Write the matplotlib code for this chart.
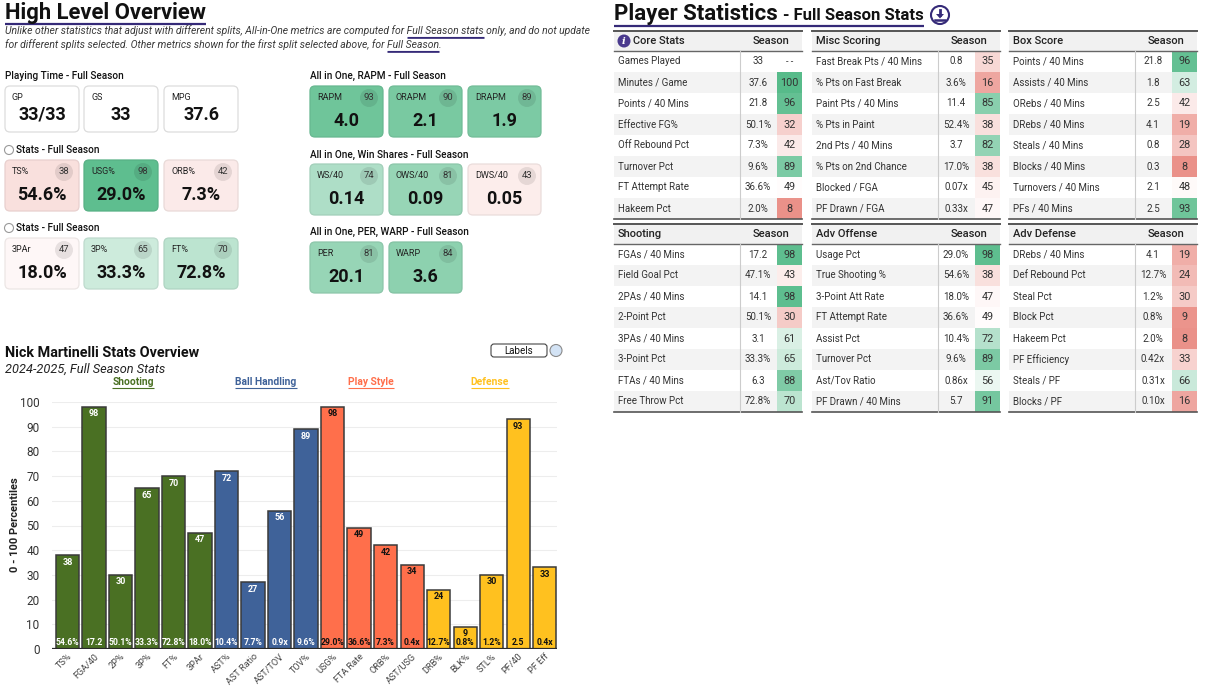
import matplotlib
matplotlib.use("Agg")
import matplotlib.pyplot as plt
from matplotlib.patches import FancyBboxPatch, Rectangle, Circle, Polygon
import numpy as np

plt.rcParams['font.family'] = ['Roboto', 'DejaVu Sans']

W, H = 1207, 687

# ---------------- data ----------------
playing_labels = ["GP", "GS", "MPG"]
playing_values = ["33/33", "33", "37.6"]

stats1_labels = ["TS%", "USG%", "ORB%"]
stats1_values = ["54.6%", "29.0%", "7.3%"]
stats1_pct = [38, 98, 42]

stats2_labels = ["3PAr", "3P%", "FT%"]
stats2_values = ["18.0%", "33.3%", "72.8%"]
stats2_pct = [47, 65, 70]

rapm_labels = ["RAPM", "ORAPM", "DRAPM"]
rapm_values = ["4.0", "2.1", "1.9"]
rapm_pct = [93, 90, 89]

ws_labels = ["WS/40", "OWS/40", "DWS/40"]
ws_values = ["0.14", "0.09", "0.05"]
ws_pct = [74, 81, 43]

per_labels = ["PER", "WARP"]
per_values = ["20.1", "3.6"]
per_pct = [81, 84]

bar_labels = ["TS%", "FGA/40", "2P%", "3P%", "FT%", "3PAr",
              "AST%", "AST Ratio", "AST/TOV", "TOV%",
              "USG%", "FTA Rate", "ORB%", "AST/USG",
              "DRB%", "BLK%", "STL%", "PF/40", "PF Eff"]
bar_pct = [38, 98, 30, 65, 70, 47, 72, 27, 56, 89, 98, 49, 42, 34, 24, 9, 30, 93, 33]
bar_raw = ["54.6%", "17.2", "50.1%", "33.3%", "72.8%", "18.0%",
           "10.4%", "7.7%", "0.9x", "9.6%",
           "29.0%", "36.6%", "7.3%", "0.4x",
           "12.7%", "0.8%", "1.2%", "2.5", "0.4x"]
bar_group = ["Shooting"] * 6 + ["Ball Handling"] * 4 + ["Play Style"] * 4 + ["Defense"] * 5
group_names = ["Shooting", "Ball Handling", "Play Style", "Defense"]

core_rows = ["Games Played", "Minutes / Game", "Points / 40 Mins", "Effective FG%",
             "Off Rebound Pct", "Turnover Pct", "FT Attempt Rate", "Hakeem Pct"]
core_vals = ["33", "37.6", "21.8", "50.1%", "7.3%", "9.6%", "36.6%", "2.0%"]
core_pct = [None, 100, 96, 32, 42, 89, 49, 8]

misc_rows = ["Fast Break Pts / 40 Mins", "% Pts on Fast Break", "Paint Pts / 40 Mins", "% Pts in Paint",
             "2nd Pts / 40 Mins", "% Pts on 2nd Chance", "Blocked / FGA", "PF Drawn / FGA"]
misc_vals = ["0.8", "3.6%", "11.4", "52.4%", "3.7", "17.0%", "0.07x", "0.33x"]
misc_pct = [35, 16, 85, 38, 82, 38, 45, 47]

box_rows = ["Points / 40 Mins", "Assists / 40 Mins", "ORebs / 40 Mins", "DRebs / 40 Mins",
            "Steals / 40 Mins", "Blocks / 40 Mins", "Turnovers / 40 Mins", "PFs / 40 Mins"]
box_vals = ["21.8", "1.8", "2.5", "4.1", "0.8", "0.3", "2.1", "2.5"]
box_pct = [96, 63, 42, 19, 28, 8, 48, 93]

shoot_rows = ["FGAs / 40 Mins", "Field Goal Pct", "2PAs / 40 Mins", "2-Point Pct",
              "3PAs / 40 Mins", "3-Point Pct", "FTAs / 40 Mins", "Free Throw Pct"]
shoot_vals = ["17.2", "47.1%", "14.1", "50.1%", "3.1", "33.3%", "6.3", "72.8%"]
shoot_pct = [98, 43, 98, 30, 61, 65, 88, 70]

advo_rows = ["Usage Pct", "True Shooting %", "3-Point Att Rate", "FT Attempt Rate",
             "Assist Pct", "Turnover Pct", "Ast/Tov Ratio", "PF Drawn / 40 Mins"]
advo_vals = ["29.0%", "54.6%", "18.0%", "36.6%", "10.4%", "9.6%", "0.86x", "5.7"]
advo_pct = [98, 38, 47, 49, 72, 89, 56, 91]

advd_rows = ["DRebs / 40 Mins", "Def Rebound Pct", "Steal Pct", "Block Pct",
             "Hakeem Pct", "PF Efficiency", "Steals / PF", "Blocks / PF"]
advd_vals = ["4.1", "12.7%", "1.2%", "0.8%", "2.0%", "0.42x", "0.31x", "0.10x"]
advd_pct = [19, 24, 30, 9, 8, 33, 66, 16]

# ---------------- styles ----------------
group_colors = {"Shooting": "#4a7023", "Ball Handling": "#3f6299",
                "Play Style": "#ff6f4b", "Defense": "#ffc11f"}
group_text = {"Shooting": "white", "Ball Handling": "white",
              "Play Style": "#111111", "Defense": "#111111"}
PURPLE = "#352a78"
RED = np.array([230, 124, 115]) / 255
GREEN = np.array([87, 187, 138]) / 255
WHITE = np.ones(3)


def pct_color(p):
    if p < 50:
        return tuple(RED + (WHITE - RED) * (p / 50))
    return tuple(WHITE + (GREEN - WHITE) * ((p - 50) / 50))


fig = plt.figure(figsize=(W / 100, H / 100), dpi=100)
ov = fig.add_axes([0, 0, 1, 1])
ov.set_xlim(0, W)
ov.set_ylim(H, 0)
ov.axis("off")
renderer = fig.canvas.get_renderer()


def tw(s, **kw):
    t1 = ov.text(0, 0, s + "|", **kw)
    w1 = t1.get_window_extent(renderer).width
    t1.remove()
    t2 = ov.text(0, 0, "|", **kw)
    w2 = t2.get_window_extent(renderer).width
    t2.remove()
    return w1 - w2


def underline(x0, x1, y, color=PURPLE, lw=1.3):
    ov.plot([x0, x1], [y, y], color=color, lw=lw, solid_capstyle="butt")


# ---------------- left: high level overview ----------------
title_kw = dict(fontsize=15.8, fontweight="bold", color="#111111")
ov.text(5, 13, "High Level Overview", va="center", ha="left", **title_kw)
underline(5, 5 + tw("High Level Overview", **title_kw), 24, lw=1.6)

note_kw = dict(fontsize=7.5, fontstyle="italic", color="#3a3a3a")
line1 = ["Unlike other statistics that adjust with different splits, All-in-One metrics are computed for ",
         "Full Season stats", " only, and do not update"]
line2 = ["for different splits selected. Other metrics shown for the first split selected above, for ",
         "Full Season", "."]
for parts, y in [(line1, 31), (line2, 45)]:
    x = 5
    ov.text(x, y, "".join(parts), va="center", ha="left", **note_kw)
    xs = x + tw(parts[0], **note_kw)
    xe = xs + tw(parts[1], **note_kw)
    underline(xs, xe, y + 5.5, lw=0.8)
    underline(xs, xe, y + 7, lw=0.6)

sec_kw = dict(fontsize=7.2, fontweight="medium", color="#111111", va="center", ha="left")


def card(x, y, w, h, label, value, pct=None, vy=0.68):
    fc = "white" if pct is None else pct_color(pct)
    ec = "#dcdcdc" if pct is None else tuple(np.array(fc) * 0.93)
    ov.add_patch(FancyBboxPatch((x, y), w, h, boxstyle="round,pad=0,rounding_size=5",
                                fc=fc, ec=ec, lw=0.9))
    ov.text(x + 7, y + 12, label, fontsize=6.5, va="center", ha="left", color="#222222")
    if pct is not None:
        ov.add_patch(Circle((x + 59, y + 12), 9, fc=(0, 0, 0, 0.09), ec="none"))
        ov.text(x + 59, y + 12, str(pct), fontsize=6.8, ha="center", va="center", color="#333333")
    ov.text(x + w / 2, y + h * vy, value, fontsize=13, fontweight="bold",
            ha="center", va="center", color="#111111")


left_x = [5, 84, 164]
right_x = [310, 389, 468]
cw = 73

ov.text(5, 76, "Playing Time - Full Season", **sec_kw)
for i in range(3):
    card(left_x[i], 86, cw + 1, 46, playing_labels[i], playing_values[i], None, vy=0.63)

for (lab, vals, pcts), yl, yc in [((stats1_labels, stats1_values, stats1_pct), 150, 160),
                                   ((stats2_labels, stats2_values, stats2_pct), 228, 238)]:
    ov.add_patch(Circle((9, yl), 4.5, fc="white", ec="#9a9a9a", lw=0.8))
    ov.text(16, yl, "Stats - Full Season", **sec_kw)
    for i in range(3):
        card(left_x[i], yc, cw + 1, 51, lab[i], vals[i], pcts[i])

for title, (lab, vals, pcts), yl, yc in [
        ("All in One, RAPM - Full Season", (rapm_labels, rapm_values, rapm_pct), 76, 86),
        ("All in One, Win Shares - Full Season", (ws_labels, ws_values, ws_pct), 155, 164),
        ("All in One, PER, WARP - Full Season", (per_labels, per_values, per_pct), 232, 242)]:
    ov.text(310, yl, title, **sec_kw)
    for i in range(len(lab)):
        card(right_x[i], yc, cw, 51, lab[i], vals[i], pcts[i])

# ---------------- bar chart ----------------
ov.text(5, 353, "Nick Martinelli Stats Overview", fontsize=10.4, fontweight="bold",
        color="#111111", va="center", ha="left")
ov.text(5, 369, "2024-2025, Full Season Stats", fontsize=9.2, fontstyle="italic",
        color="#222222", va="center", ha="left")

cat_x = {"Shooting": 133, "Ball Handling": 266, "Play Style": 371, "Defense": 490}
cat_kw = dict(fontsize=7.4, fontweight="bold")
for g in group_names:
    ov.text(cat_x[g], 382, g, ha="center", va="center", color=group_colors[g], **cat_kw)
    half = tw(g, **cat_kw) / 2
    underline(cat_x[g] - half, cat_x[g] + half, 388, color=group_colors[g], lw=0.8)

ov.add_patch(FancyBboxPatch((491, 344), 56, 13, boxstyle="round,pad=0,rounding_size=3",
                            fc="white", ec="#444444", lw=0.8))
ov.text(519, 350.5, "Labels", fontsize=7, ha="center", va="center", color="#111111")
ov.add_patch(Circle((556, 350.5), 6, fc="#d3e3f5", ec="#8a8a8a", lw=0.8))

ov.text(15, 525, "0 - 100 Percentiles", rotation=90, fontsize=8, fontweight="bold",
        color="#222222", ha="center", va="center")

ax = fig.add_axes([52 / W, (H - 649) / H, (557 - 52) / W, (649 - 402) / H])
ax.set_facecolor("none")
xpos = np.arange(len(bar_labels))
colors = [group_colors[g] for g in bar_group]
ax.bar(xpos, bar_pct, width=0.87, color=colors, edgecolor="#3a3a3a", linewidth=1.1, zorder=3)
ax.set_xlim(-0.585, 18.47)
ax.set_ylim(0, 100)
ax.set_yticks(range(0, 101, 10))
ax.grid(axis="y", color="#ededed", lw=0.8, zorder=0)
ax.axhline(0, color="#2a2a2a", lw=1.6, zorder=4)
for s in ax.spines.values():
    s.set_visible(False)
ax.tick_params(axis="y", length=0, pad=9, labelsize=8.5, labelcolor="#333333")
ax.tick_params(axis="x", length=0, pad=2)
ax.set_xticks(xpos)
ax.set_xticklabels(bar_labels, rotation=45, ha="right", rotation_mode="anchor",
                   fontsize=6.6, color="#444444")
for i in range(len(bar_labels)):
    tc = group_text[bar_group[i]]
    ax.annotate(str(bar_pct[i]), (xpos[i], bar_pct[i]), xytext=(0, -5), textcoords="offset points",
                ha="center", va="center", fontsize=6.5, fontweight="bold", color=tc, zorder=5)
    ax.annotate(bar_raw[i], (xpos[i], 0), xytext=(0, 4.4), textcoords="offset points",
                ha="center", va="center", fontsize=6.2, fontweight="bold", color=tc, zorder=5)

# ---------------- right: player statistics ----------------
ps_kw = dict(fontsize=16, fontweight="bold", color="#111111")
fs_kw = dict(fontsize=12, fontweight="bold", color="#111111")
ov.text(614, 14, "Player Statistics", va="center", ha="left", **ps_kw)
x_fs = 614 + tw("Player Statistics ", **ps_kw)
ov.text(x_fs, 16, "- Full Season Stats", va="center", ha="left", **fs_kw)
x_end = x_fs + tw("- Full Season Stats", **fs_kw)
underline(614, x_end, 26, lw=1.6)
cx, cy = x_end + 16, 15
ov.add_patch(Circle((cx, cy), 9, fc="white", ec=PURPLE, lw=1.5))
ov.plot([cx, cx], [cy - 5, cy], color=PURPLE, lw=2)
ov.add_patch(Polygon([[cx - 4, cy - 1], [cx + 4, cy - 1], [cx, cy + 3.5]], closed=True, fc=PURPLE, ec="none"))
ov.plot([cx - 5, cx + 5], [cy + 5, cy + 5], color=PURPLE, lw=1.8)

TW = 188


def draw_table(x0, yt, title, rows, vals, pcts, icon=False):
    hh, rh = 20, 21
    ov.add_patch(Rectangle((x0, yt), TW, hh, fc="#f1f1f1", ec="none"))
    tx = x0 + 4
    if icon:
        ov.add_patch(Circle((x0 + 10, yt + hh / 2), 6.5, fc="#4a3a8e", ec="none"))
        ov.text(x0 + 10, yt + hh / 2 + 0.5, "i", fontsize=7, fontweight="bold", fontstyle="italic",
                family="DejaVu Serif", color="white", ha="center", va="center")
        tx = x0 + 19
    ov.text(tx, yt + hh / 2, title, fontsize=8, fontweight="medium", color="#222222",
            ha="left", va="center")
    ov.text(x0 + 157, yt + hh / 2, "Season", fontsize=8, fontweight="medium",
            color="#222222", ha="center", va="center")
    for i, (r, v, p) in enumerate(zip(rows, vals, pcts)):
        y0 = yt + hh + rh * i
        if i % 2 == 1:
            ov.add_patch(Rectangle((x0, y0), TW, rh, fc="#f3f3f3", ec="none"))
        ym = y0 + rh / 2
        ov.text(x0 + 4, ym, r, fontsize=7.0, color="#333333", ha="left", va="center")
        ov.text(x0 + 144, ym, v, fontsize=7, color="#333333", ha="center", va="center")
        if p is None:
            ov.text(x0 + 175.5, ym, "- -", fontsize=6.6, color="#333333", ha="center", va="center")
        else:
            ov.add_patch(Rectangle((x0 + 163, y0), TW - 163, rh, fc=pct_color(p), ec="none"))
            ov.text(x0 + 175.5, ym, str(p), fontsize=7.8, color="#333333", ha="center", va="center")
    yb = yt + hh + rh * len(rows)
    ov.plot([x0, x0 + TW], [yt, yt], color="#555555", lw=1.4)
    ov.plot([x0, x0 + TW], [yt + hh, yt + hh], color="#666666", lw=1)
    ov.plot([x0, x0 + TW], [yb, yb], color="#555555", lw=1.2)
    ov.plot([x0 + 126, x0 + 126], [yt + hh, yb], color="#cccccc", lw=0.8)


table_x = [614, 812, 1009]
draw_table(table_x[0], 31, "Core Stats", core_rows, core_vals, core_pct, icon=True)
draw_table(table_x[1], 31, "Misc Scoring", misc_rows, misc_vals, misc_pct)
draw_table(table_x[2], 31, "Box Score", box_rows, box_vals, box_pct)
draw_table(table_x[0], 224, "Shooting", shoot_rows, shoot_vals, shoot_pct)
draw_table(table_x[1], 224, "Adv Offense", advo_rows, advo_vals, advo_pct)
draw_table(table_x[2], 224, "Adv Defense", advd_rows, advd_vals, advd_pct)

fig.savefig("out.png", dpi=100)
